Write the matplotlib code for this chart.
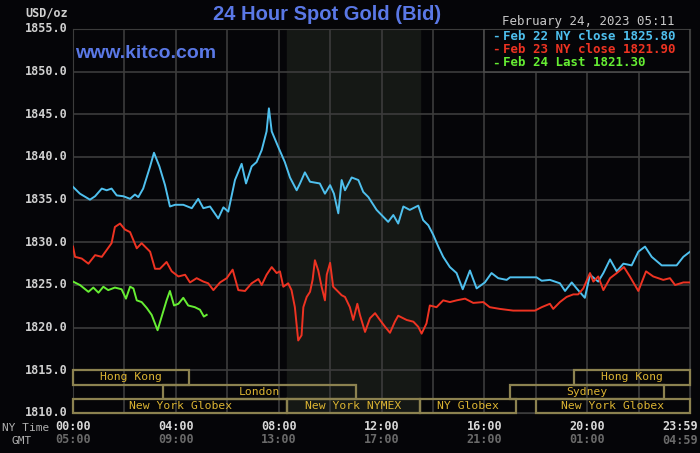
import matplotlib
matplotlib.use('Agg')
import matplotlib.pyplot as plt
from matplotlib.patches import Rectangle

# Feb 22 NY close series (hours NY time, price)
blue_t = [0, 0.27, 0.66, 0.86, 1.12, 1.31, 1.5, 1.70, 1.96, 2.22, 2.41, 2.54, 2.73, 3.0, 3.15,
          3.36, 3.58, 3.77, 3.97, 4.29, 4.62, 4.87, 5.07, 5.33, 5.65, 5.85, 6.04, 6.3, 6.56,
          6.73, 6.95, 7.14, 7.34, 7.53, 7.62, 7.73, 7.98, 8.24, 8.44, 8.70, 8.83, 9.02, 9.22,
          9.6, 9.8, 10.0, 10.15, 10.32, 10.45, 10.58, 10.84, 11.1, 11.29, 11.49, 11.81, 12.26,
          12.46, 12.65, 12.85, 13.1, 13.43, 13.62, 13.82, 14.01, 14.21, 14.4, 14.66, 14.92,
          15.16, 15.44, 15.7, 16.02, 16.28, 16.54, 16.87, 17.0, 18.03, 18.23, 18.55, 18.94,
          19.14, 19.4, 19.59, 19.91, 20.11, 20.43, 20.63, 20.89, 21.15, 21.41, 21.73, 21.99,
          22.25, 22.51, 22.9, 23.48, 23.74, 24.0]
blue_p = [1836.5, 1835.7, 1835.0, 1835.4, 1836.3, 1836.1, 1836.3, 1835.5, 1835.4, 1835.1, 1835.6,
          1835.3, 1836.3, 1838.9, 1840.5, 1838.9, 1836.7, 1834.2, 1834.4, 1834.4, 1834.0, 1835.1,
          1834.0, 1834.2, 1832.8, 1834.1, 1833.6, 1837.3, 1839.2, 1836.9, 1838.9, 1839.4, 1840.8,
          1843.0, 1845.7, 1843.0, 1841.2, 1839.4, 1837.6, 1836.1, 1836.9, 1838.2, 1837.1, 1836.9,
          1835.7, 1836.7, 1835.7, 1833.4, 1837.3, 1836.1, 1837.6, 1837.3, 1835.9, 1835.3, 1833.8,
          1832.4, 1833.2, 1832.2, 1834.2, 1833.8, 1834.3, 1832.6, 1832.0, 1830.9, 1829.5, 1828.3,
          1827.1, 1826.4, 1824.5, 1826.7, 1824.6, 1825.3, 1826.4, 1825.8, 1825.6, 1825.9, 1825.9,
          1825.5, 1825.6, 1825.2, 1824.3, 1825.3, 1824.6, 1823.5, 1826.2, 1825.4, 1826.4, 1828.0,
          1826.6, 1827.5, 1827.3, 1828.9, 1829.5, 1828.3, 1827.3, 1827.3, 1828.3, 1828.9]

# Feb 23 NY close series
red_t = [0, 0.08, 0.34, 0.6, 0.86, 1.12, 1.31, 1.5, 1.63, 1.83, 2.02, 2.22, 2.48, 2.67, 3.0, 3.19,
         3.38, 3.64, 3.84, 4.1, 4.36, 4.55, 4.81, 5.07, 5.26, 5.46, 5.72, 5.98, 6.21, 6.43, 6.69,
         6.95, 7.21, 7.34, 7.53, 7.73, 7.92, 8.05, 8.18, 8.37, 8.50, 8.63, 8.76, 8.89, 8.96, 9.09,
         9.22, 9.32, 9.41, 9.54, 9.67, 9.8, 9.87, 10.0, 10.12, 10.32, 10.45, 10.58, 10.77, 10.9,
         11.06, 11.16, 11.36, 11.55, 11.75, 11.94, 12.14, 12.33, 12.52, 12.65, 12.98, 13.24, 13.43,
         13.56, 13.75, 13.88, 14.14, 14.4, 14.66, 14.92, 15.25, 15.57, 15.96, 16.21, 16.6, 17.12,
         17.97, 18.23, 18.55, 18.68, 18.94, 19.2, 19.46, 19.65, 19.85, 20.11, 20.24, 20.43, 20.63,
         20.89, 21.15, 21.43, 21.66, 21.99, 22.29, 22.57, 22.96, 23.22, 23.42, 23.74, 24.0]
red_p = [1829.5, 1828.3, 1828.1, 1827.5, 1828.5, 1828.3, 1829.1, 1829.9, 1831.8, 1832.2, 1831.5,
         1831.2, 1829.3, 1829.9, 1828.9, 1826.9, 1826.9, 1827.7, 1826.6, 1826.0, 1826.2, 1825.3,
         1825.8, 1825.4, 1825.2, 1824.4, 1825.3, 1825.8, 1826.8, 1824.4, 1824.3, 1825.2, 1825.7,
         1825.0, 1826.2, 1827.1, 1826.4, 1826.6, 1824.8, 1825.2, 1824.4, 1822.4, 1818.5, 1819.1,
         1822.4, 1823.6, 1824.2, 1825.6, 1827.9, 1826.7, 1824.8, 1823.2, 1826.2, 1827.6, 1824.8,
         1824.2, 1823.8, 1823.6, 1822.4, 1820.9, 1822.8, 1821.5, 1819.5, 1821.1, 1821.7, 1820.9,
         1820.1, 1819.4, 1820.7, 1821.4, 1820.9, 1820.7, 1820.1, 1819.3, 1820.5, 1822.6, 1822.4,
         1823.2, 1823.0, 1823.2, 1823.4, 1822.9, 1823.0, 1822.4, 1822.2, 1822.0, 1822.0, 1822.4,
         1822.8, 1822.2, 1823.0, 1823.6, 1823.9, 1823.9, 1824.6, 1826.4, 1825.4, 1826.0, 1824.4,
         1825.8, 1826.4, 1827.1, 1826.0, 1824.3, 1826.6, 1826.0, 1825.6, 1825.8, 1825.0, 1825.3,
         1825.3]

# Feb 24 last series
green_t = [0, 0.27, 0.6, 0.79, 0.99, 1.18, 1.37, 1.63, 1.89, 2.06, 2.22, 2.35, 2.48, 2.67, 2.87,
           3.06, 3.29, 3.45, 3.64, 3.77, 3.93, 4.1, 4.29, 4.48, 4.74, 4.94, 5.09, 5.2]
green_p = [1825.4, 1825.0, 1824.2, 1824.7, 1824.1, 1824.8, 1824.4, 1824.7, 1824.5, 1823.4, 1824.8,
           1824.6, 1823.2, 1823.0, 1822.3, 1821.5, 1819.7, 1821.3, 1823.2, 1824.3, 1822.6, 1822.8,
           1823.5, 1822.6, 1822.4, 1822.1, 1821.3, 1821.5]

legend_labels = ['Feb 22 NY close 1825.80', 'Feb 23 NY close 1821.90', 'Feb 24 Last 1821.30']

ny_ticks = [0, 4, 8, 12, 16, 20, 23.983]
ny_labels = ['00:00', '04:00', '08:00', '12:00', '16:00', '20:00', '23:59']
gmt_labels = ['05:00', '09:00', '13:00', '17:00', '21:00', '01:00', '04:59']

# trading sessions: (name, start hour, end hour, row) row 0 = top
sessions = [('Hong Kong', 0, 4.5, 0), ('Hong Kong', 19.5, 24, 0),
            ('London', 3.5, 11.0, 1), ('Sydney', 17.0, 23.0, 1),
            ('New York Globex', 0, 8.33, 2), ('New York NYMEX', 8.33, 13.5, 2),
            ('NY Globex', 13.5, 17.25, 2), ('New York Globex', 18.0, 24, 2)]

bg = '#050508'
fig = plt.figure(figsize=(7, 4.53), dpi=100, facecolor=bg)
ax = fig.add_axes([73/700, 40/453, 617/700, 384/453], facecolor=bg)

ax.set_xlim(0, 24)
ax.set_ylim(1810, 1855)
ax.axvspan(8.33, 13.5, color='#151815', zorder=0)
ax.set_xticks(range(0, 25, 2), minor=False)
ax.set_yticks(range(1810, 1856, 5))
ax.grid(True, color='#3c3c3c', linewidth=1.2, zorder=1)
for s in ax.spines.values():
    s.set_color('#3c3c3c')
ax.tick_params(length=0, labelbottom=False, labelleft=False)

ax.plot(blue_t, blue_p, color='#4fc0ee', lw=1.4, zorder=3)
ax.plot(red_t, red_p, color='#ee3322', lw=1.4, zorder=3)
ax.plot(green_t, green_p, color='#66ee33', lw=1.4, zorder=3)

# session bars
row_h = 5 / 3
for name, t0, t1, row in sessions:
    y0 = 1815 - (row + 1) * row_h
    ax.add_patch(Rectangle((t0, y0), t1 - t0, row_h, fill=False, edgecolor='#8c8250',
                           lw=1.6, zorder=4, clip_on=False))
    ax.text((t0 + t1) / 2, y0 + row_h / 2, name, color='#dcb432', fontsize=8.2,
            family='DejaVu Sans Mono', ha='center', va='center', zorder=5)

# y labels
for v in range(1810, 1856, 5):
    ax.text(-0.2, v, f'{v:.1f}', transform=ax.transData, ha='right', va='center',
            color='#d0d0d0', fontsize=8.5, family='DejaVu Sans Mono', weight='bold')
fig.text(68/700, 1 - 13/453, 'USD/oz', ha='right', va='center', color='#d0d0d0',
         fontsize=8.5, family='DejaVu Sans Mono', weight='bold')

# x labels (last one pulled inside the figure, right aligned)
xt = ax.get_xaxis_transform()
for t, a, b in zip(ny_ticks, ny_labels, gmt_labels):
    if a == '23:59':
        kw = dict(x=698/700, ha='right', transform=fig.transFigure)
        y1, y2 = 1 - 426/453, 1 - 441/453
    else:
        kw = dict(x=t, ha='center', transform=xt)
        y1, y2 = -0.035, -0.07
    fig_or_ax = fig if a == '23:59' else ax
    fig_or_ax.text(kw['x'], y1, a, transform=kw['transform'], ha=kw['ha'], va='center',
                   color='#d8d8d8', fontsize=8.5, family='DejaVu Sans Mono', weight='bold')
    fig_or_ax.text(kw['x'], y2, b, transform=kw['transform'], ha=kw['ha'], va='center',
                   color='#6a6a6a', fontsize=8.5, family='DejaVu Sans Mono', weight='bold')
fig.text(26/700, 1 - 428/453, 'NY Time', ha='center', va='center', color='#b0b0b0',
         fontsize=8, family='DejaVu Sans Mono')
fig.text(22/700, 1 - 441/453, 'GMT', ha='center', va='center', color='#b0b0b0',
         fontsize=8, family='DejaVu Sans Mono')

# titles
fig.text(327/700, 1 - 15/453, '24 Hour Spot Gold (Bid)', ha='center', va='center',
         color='#5a78e6', fontsize=14.5, family='Liberation Sans', weight='bold')
fig.text(75/700, 1 - 53/453, 'www.kitco.com', ha='left', va='center',
         color='#5a78e6', fontsize=14, family='Liberation Sans', weight='bold')
fig.text(588/700, 1 - 21/453, 'February 24, 2023 05:11', ha='center', va='center',
         color='#c8c8c8', fontsize=9, family='DejaVu Sans Mono')

# legend box
ax.add_patch(Rectangle((16.0, 1850), 8.0, 5, facecolor=bg, edgecolor='#4a4a4a', lw=1.2, zorder=6))
leg_colors = ['#4fc0ee', '#ee3322', '#66ee33']
for i, (lab, c) in enumerate(zip(legend_labels, leg_colors)):
    y = 1 - (36 + i * 13.5) / 453
    fig.text(496/700, y, '-', ha='center', va='center', color=c, fontsize=9,
             family='DejaVu Sans Mono', weight='bold', zorder=7)
    fig.text(503/700, y, lab, ha='left', va='center', color=c, fontsize=9,
             family='DejaVu Sans Mono', weight='bold', zorder=7)

fig.savefig('out.png', dpi=100, facecolor=bg)
